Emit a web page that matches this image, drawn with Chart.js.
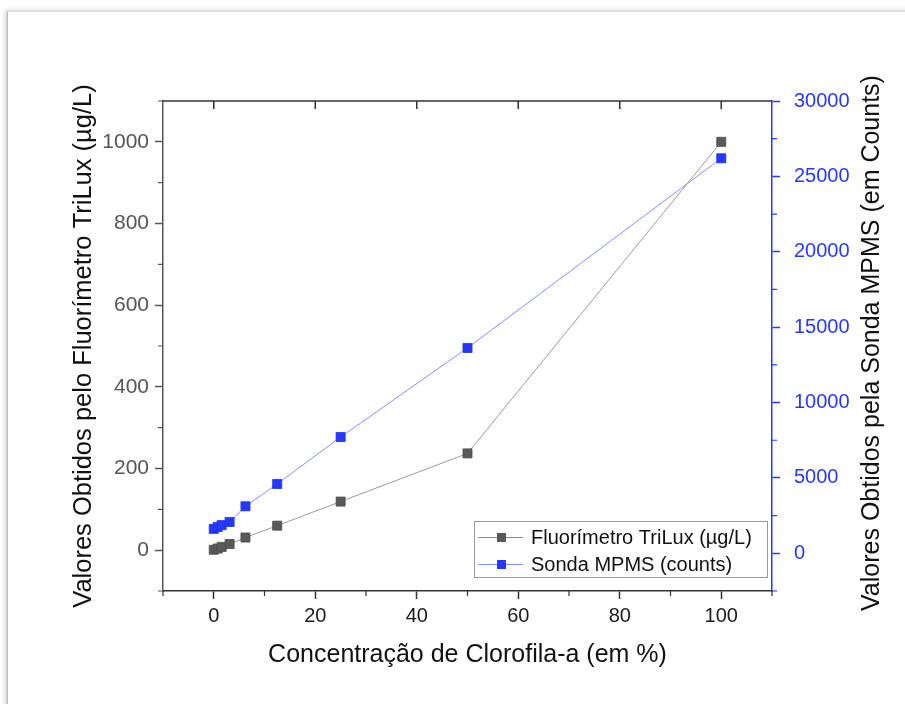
<!DOCTYPE html>
<html><head><meta charset="utf-8">
<script src="https://cdn.jsdelivr.net/npm/chart.js@4"></script>
<style>
html,body{margin:0;padding:0;background:#fff;overflow:hidden}
#frame{position:absolute;left:7px;top:11px;width:1100px;height:900px;border-top:1px solid #dcdcdc;border-left:1px solid #b8b8b8;box-shadow:-2px -1px 4px rgba(0,0,0,0.18);background:#fff}
#wrap{position:absolute;left:0;top:0;width:905px;height:704px}
</style></head><body>
<div id="frame"></div>
<div id="wrap"><canvas id="c" width="905" height="704"></canvas></div>
<script>
const concentrations = [0, 0.78, 1.56, 3.125, 6.25, 12.5, 25, 50, 100];
const triluxValues = [1, 4, 8, 15, 31, 60, 119, 237, 1000];
const mpmsCounts = [1620, 1750, 1870, 2080, 3120, 4600, 7710, 13620, 26200];
const xTicks = [0, 20, 40, 60, 80, 100];
const xMinorTicks = [-10, 10, 30, 50, 70, 90, 110];
const leftTicks = [0, 200, 400, 600, 800, 1000];
const leftMinorTicks = [-100, 100, 300, 500, 700, 900, 1100];
const rightTicks = [0, 5000, 10000, 15000, 20000, 25000, 30000];
const rightMinorTicks = [-2500, 2500, 7500, 12500, 17500, 22500, 27500];
const seriesNames = ['Fluorímetro TriLux (µg/L)', 'Sonda MPMS (counts)'];
const xTitle = 'Concentração de Clorofila-a (em %)';
const leftTitle = 'Valores Obtidos pelo Fluorímetro TriLux (µg/L)';
const rightTitle = 'Valores Obtidos pela Sonda MPMS (em Counts)';

const FONT = "'Liberation Sans', Arial, sans-serif";
const BLUE = '#2438ff';
const GRAY_MARK = '#595959';

const extras = {
  id: 'extras',
  afterDraw(chart) {
    const ctx = chart.ctx;
    const ca = chart.chartArea;
    const sx = chart.scales.x, sl = chart.scales.y, sr = chart.scales.y1;
    ctx.save();
    ctx.strokeStyle = '#333'; ctx.lineWidth = 1.5;
    ctx.beginPath(); ctx.moveTo(ca.left, ca.top); ctx.lineTo(ca.right, ca.top); ctx.stroke();
    ctx.beginPath();
    xTicks.forEach(v => { const p = sx.getPixelForValue(v); ctx.moveTo(p, ca.top); ctx.lineTo(p, ca.top + 8); });
    ctx.stroke();
    ctx.lineWidth = 1.2;
    ctx.beginPath();
    xMinorTicks.forEach(v => { const p = sx.getPixelForValue(v); ctx.moveTo(p, ca.bottom); ctx.lineTo(p, ca.bottom + 5); });
    ctx.stroke();
    ctx.strokeStyle = '#555';
    ctx.beginPath();
    leftMinorTicks.forEach(v => { const p = sl.getPixelForValue(v); ctx.moveTo(ca.left, p); ctx.lineTo(ca.left - 5, p); });
    ctx.stroke();
    ctx.strokeStyle = BLUE;
    ctx.beginPath();
    rightMinorTicks.forEach(v => { const p = sr.getPixelForValue(v); ctx.moveTo(ca.right, p); ctx.lineTo(ca.right + 5, p); });
    ctx.stroke();
    ctx.translate(872, (ca.top + ca.bottom) / 2 - 3);
    ctx.rotate(-Math.PI / 2);
    ctx.fillStyle = '#111';
    ctx.font = '25px ' + FONT;
    ctx.textAlign = 'center'; ctx.textBaseline = 'middle';
    ctx.fillText(rightTitle, 0, 0);
    ctx.restore();

    ctx.save();
    const bx = 474, by = 521, bw = 293, bh = 56;
    ctx.fillStyle = '#fff'; ctx.fillRect(bx, by, bw, bh);
    ctx.strokeStyle = '#9a9a9a'; ctx.lineWidth = 1;
    ctx.strokeRect(bx + 0.5, by + 0.5, bw, bh);
    const rows = [
      {name: seriesNames[0], line: '#8c8c8c', fill: GRAY_MARK, y: 537},
      {name: seriesNames[1], line: '#7f8fff', fill: BLUE, y: 564}
    ];
    ctx.font = '20px ' + FONT; ctx.textBaseline = 'middle'; ctx.textAlign = 'left';
    rows.forEach(r => {
      ctx.strokeStyle = r.line; ctx.lineWidth = 1;
      ctx.beginPath(); ctx.moveTo(478, r.y + 0.5); ctx.lineTo(523, r.y + 0.5); ctx.stroke();
      ctx.fillStyle = r.fill; ctx.fillRect(497, r.y - 4, 9, 9);
      ctx.fillStyle = '#111'; ctx.fillText(r.name, 531, r.y + 1);
    });
    ctx.restore();
  }
};

const tickCb = v => String(v);

new Chart(document.getElementById('c'), {
  type: 'scatter',
  data: {
    datasets: [
      {
        label: seriesNames[0],
        data: concentrations.map((x, i) => ({x, y: triluxValues[i]})),
        yAxisID: 'y',
        showLine: true,
        borderColor: '#9a9a9a', borderWidth: 1,
        pointStyle: 'rect', pointRadius: 6.4,
        pointBackgroundColor: GRAY_MARK, pointBorderColor: '#4d4d4d', pointBorderWidth: 0.8
      },
      {
        label: seriesNames[1],
        data: concentrations.map((x, i) => ({x, y: mpmsCounts[i]})),
        yAxisID: 'y1',
        showLine: true,
        borderColor: '#7f8fff', borderWidth: 1,
        pointStyle: 'rect', pointRadius: 6.4,
        pointBackgroundColor: BLUE, pointBorderColor: '#1a30f0', pointBorderWidth: 0.8
      }
    ]
  },
  options: {
    responsive: false,
    devicePixelRatio: 1,
    animation: false,
    layout: {padding: {left: 65, right: 16, top: 101, bottom: 30}},
    plugins: {legend: {display: false}, tooltip: {enabled: false}},
    scales: {
      x: {
        type: 'linear', position: 'bottom', min: -10, max: 110,
        afterBuildTicks: s => { s.ticks = xTicks.map(v => ({value: v})); },
        afterFit: s => { s.height = 83; },
        grid: {drawOnChartArea: false, drawTicks: true, tickLength: 8, tickColor: '#333', tickWidth: 1.5},
        border: {display: true, color: '#333', width: 1.5},
        ticks: {color: '#1a1a1a', font: {family: FONT, size: 20}, padding: 5, maxRotation: 0, callback: tickCb},
        title: {display: true, text: xTitle, color: '#111', font: {family: FONT, size: 25}, padding: {top: 4, bottom: 4}}
      },
      y: {
        type: 'linear', position: 'left', min: -100, max: 1100,
        afterBuildTicks: s => { s.ticks = leftTicks.map(v => ({value: v})); },
        afterFit: s => { s.width = 98; },
        grid: {drawOnChartArea: false, drawTicks: true, tickLength: 8, tickColor: '#555', tickWidth: 1.5},
        border: {display: true, color: '#555', width: 1.5},
        ticks: {color: '#555', font: {family: FONT, size: 21}, padding: 6, callback: tickCb},
        title: {display: true, text: leftTitle, color: '#111', font: {family: FONT, size: 25.5}, padding: {top: 4, bottom: 4}}
      },
      y1: {
        type: 'linear', position: 'right', min: -2500, max: 30000,
        afterBuildTicks: s => { s.ticks = rightTicks.map(v => ({value: v})); },
        afterFit: s => { s.width = 117; },
        grid: {drawOnChartArea: false, drawTicks: true, tickLength: 8, tickColor: BLUE, tickWidth: 1.5},
        border: {display: true, color: BLUE, width: 1.5},
        ticks: {color: BLUE, font: {family: FONT, size: 20}, padding: 14, callback: tickCb}
      }
    }
  },
  plugins: [extras]
});
</script>
</body></html>
